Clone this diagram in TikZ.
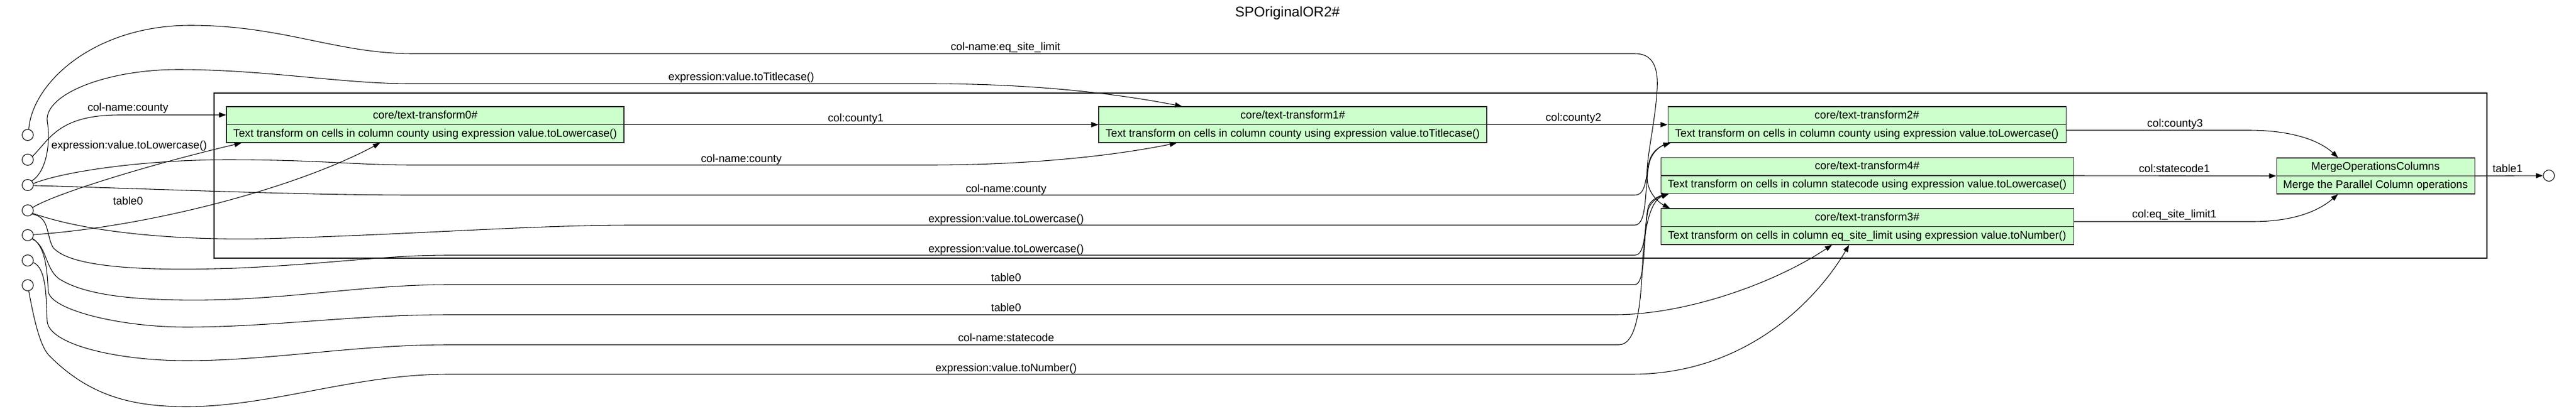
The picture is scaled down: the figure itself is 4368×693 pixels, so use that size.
\documentclass[tikz,border=0pt]{standalone}
\usepackage{fontspec}
\setmainfont{Liberation Sans}
\usetikzlibrary{arrows.meta,calc}
\definecolor{recfill}{HTML}{CCFFCC}
\begin{document}
\begin{tikzpicture}[x=0.75pt,y=-0.75pt,
  rec/.style={draw=black!85, fill=recfill, line width=0.8pt, minimum height=45.75pt, inner sep=0},
  txt/.style={font=\fontsize{14}{16}\selectfont, inner sep=0, text height=10pt, text depth=2.5pt},
  port/.style={circle, draw, line width=0.8pt, minimum size=14.25pt, inner sep=0},
  edge/.style={line width=0.8pt, -{Triangle[length=9pt,width=6.5pt]}},
  clusterbox/.style={draw, line width=1.6pt, minimum width=2890.5pt, minimum height=210pt, inner sep=0}
]
\useasboundingbox (0,0) rectangle (4368,693);
% title
\node[font=\fontsize{18}{20}\selectfont, inner sep=0, text height=13pt, text depth=3pt] (title) at (2183,22) {SPOriginalOR2\#};
% cluster
\node[clusterbox] (cl) at (2290,298) {};
% inputs
\node[port] (c1) at (47,229) {};
\node[port] (c2) at (47,271) {};
\node[port] (c3) at (47,314) {};
\node[port] (c4) at (47,357) {};
\node[port] (c5) at (47,399) {};
\node[port] (c6) at (47,442) {};
\node[port] (c7) at (47,484) {};
\node[port] (o) at (4322,298) {};
% records
\node[rec, minimum width=505.5pt] (t0) at (721,211.5) {};
\node[rec, minimum width=493.5pt] (t1) at (2192,211.5) {};
\node[rec, minimum width=506.25pt] (t2) at (3165.5,211.5) {};
\node[rec, minimum width=525pt] (t4) at (3166,298) {};
\node[rec, minimum width=525pt] (t3) at (3166,384.5) {};
\node[rec, minimum width=252pt] (mg) at (4028,298.5) {};
\foreach \n in {t0,t1,t2,t4,t3,mg} \draw[line width=0.8pt, black!85] (\n.west) -- (\n.east);
\node[txt] (t0h) at (721,196) {core/text-transform0\#};
\node[txt] (t0b) at (721,227) {Text transform on cells in column county using expression value.toLowercase()};
\node[txt] (t1h) at (2192,196) {core/text-transform1\#};
\node[txt] (t1b) at (2192,227) {Text transform on cells in column county using expression value.toTitlecase()};
\node[txt] (t2h) at (3165.5,196) {core/text-transform2\#};
\node[txt] (t2b) at (3165.5,227) {Text transform on cells in column county using expression value.toLowercase()};
\node[txt] (t4h) at (3166,282.5) {core/text-transform4\#};
\node[txt] (t4b) at (3166,313.5) {Text transform on cells in column statecode using expression value.toLowercase()};
\node[txt] (t3h) at (3166,369) {core/text-transform3\#};
\node[txt] (t3b) at (3166,400) {Text transform on cells in column eq\_site\_limit using expression value.toNumber()};
\node[txt] (mgh) at (4028,283) {MergeOperationsColumns};
\node[txt] (mgb) at (4028,314) {Merge the Parallel Column operations};
% edges from inputs
\draw[edge] (c1.80) .. controls (55,140) and (160,43) .. (323,43) .. controls (480,43) and (570,91) .. (700,91) -- (2772,91) .. controls (2800,91) and (2812,110) .. (2810,150) .. controls (2806,220) and (2786,285) .. (2795,315) .. controls (2800,333) and (2815,345) .. ([xshift=12pt]t3.north west);
\draw[edge] (c3.45) .. controls (80,290) and (86,240) .. (80,205) .. controls (76,160) and (180,118) .. (302,118) .. controls (450,118) and (580,142) .. (694,142) -- (1575,142) .. controls (1760,142) and (1900,160) .. ([xshift=106.5pt]t1.north west);
\draw[edge] (c2.35) .. controls (85,235) and (100,196) .. (200,195) -- ([yshift=12.4pt]t0.west);
\draw[edge] (c4.30) .. controls (90,330) and (250,280) .. ([xshift=19.5pt]t0.south west);
\draw[edge] (c5.5) .. controls (250,385) and (500,320) .. ([xshift=195.75pt]t0.south west);
\draw[edge] (c3.15) .. controls (110,290) and (250,271) .. (386,271) .. controls (540,271) and (600,280) .. (700,280) -- (1575,280) .. controls (1760,280) and (1900,262) .. ([xshift=99.75pt]t1.south west);
\draw[edge] (c3.-5) .. controls (250,320) and (500,331) .. (700,331) -- (2772,331) .. controls (2792,331) and (2790,300) .. (2797,272) .. controls (2802,255) and (2818,247) .. ([xshift=3.75pt]t2.south west);
\draw[edge] (c4.-30) .. controls (150,395) and (300,408) .. (450,405) .. controls (700,398) and (900,382) .. (1070,382) -- (2772,382) .. controls (2795,382) and (2788,310) .. (2797,275) .. controls (2802,256) and (2818,247) .. ([xshift=3.75pt]t2.south west);
\draw[edge] (c4.-40) .. controls (85,368) and (78,400) .. (90,420) .. controls (120,455) and (250,460) .. (400,455) .. controls (560,448) and (650,433) .. (760,433) -- (2772,433) .. controls (2792,433) and (2788,380) .. (2795,350) .. controls (2800,338) and (2815,332) .. ([xshift=10.5pt]t4.south west);
\draw[edge] (c5.-40) .. controls (80,418) and (76,455) .. (100,473) .. controls (150,505) and (250,510) .. (350,509) .. controls (500,507) and (620,483) .. (760,483) -- (2772,483) .. controls (2792,483) and (2786,390) .. (2795,355) .. controls (2800,340) and (2815,333) .. ([xshift=10.5pt]t4.south west);
\draw[edge] (c5.-35) .. controls (80,420) and (80,470) .. (82,495) .. controls (86,525) and (200,555) .. (316,555) .. controls (460,555) and (600,534) .. (760,534) -- (2738,534) .. controls (2860,534) and (3010,480) .. ([xshift=218.25pt]t3.south west);
\draw[edge] (c6.-20) .. controls (80,455) and (78,510) .. (80,545) .. controls (83,585) and (200,612) .. (316,612) .. controls (460,612) and (600,585) .. (760,585) -- (2745,585) .. controls (2775,585) and (2782,520) .. (2785,450) .. controls (2788,380) and (2800,340) .. ([xshift=10.5pt]t4.south west);
\draw[edge] (c7.-80) .. controls (60,555) and (70,590) .. (84,604) .. controls (150,670) and (220,690) .. (316,690) .. controls (460,690) and (600,635) .. (760,635) -- (2767,635) .. controls (2960,635) and (3080,510) .. ([xshift=240pt]t3.south west);
% internal edges
\draw[edge] (t0.east) -- (t1.west);
\draw[edge] (t1.east) -- (t2.west);
\draw[edge] ([yshift=-7.1pt]t2.east) -- (3813,221) .. controls (3890,221) and (3935,240) .. ([xshift=78.75pt]mg.north west);
\draw[edge] (t4.east) -- (mg.west);
\draw[edge] ([yshift=6.4pt]t3.east) -- (3819,376) .. controls (3895,376) and (3935,355) .. ([xshift=78.75pt]mg.south west);
\draw[edge] (mg.east) -- (o.west);
% labels
\node[txt] (l1) at (1705,80) {col-name:eq\_site\_limit};
\node[txt] (l2) at (1257,131) {expression:value.toTitlecase()};
\node[txt] (l3) at (217,183) {col-name:county};
\node[txt] (l4) at (219,247) {expression:value.toLowercase()};
\node[txt] (l5) at (217,342) {table0};
\node[txt] (l6) at (1257,270) {col-name:county};
\node[txt] (l7) at (1706,321) {col-name:county};
\node[txt] (l8) at (1706,372) {expression:value.toLowercase()};
\node[txt] (l9) at (1706,423) {expression:value.toLowercase()};
\node[txt] (l10) at (1706,472) {table0};
\node[txt] (l11) at (1706,523) {table0};
\node[txt] (l12) at (1706,574) {col-name:statecode};
\node[txt] (l13) at (1706,625) {expression:value.toNumber()};
\node[txt] (l14) at (1451,201) {col:county1};
\node[txt] (l15) at (2668,200) {col:county2};
\node[txt] (l16) at (3688,210) {col:county3};
\node[txt] (l17) at (3687,287) {col:statecode1};
\node[txt] (l18) at (3687,364) {col:eq\_site\_limit1};
\node[txt] (l19) at (4252,287) {table1};
\end{tikzpicture}
\end{document}
